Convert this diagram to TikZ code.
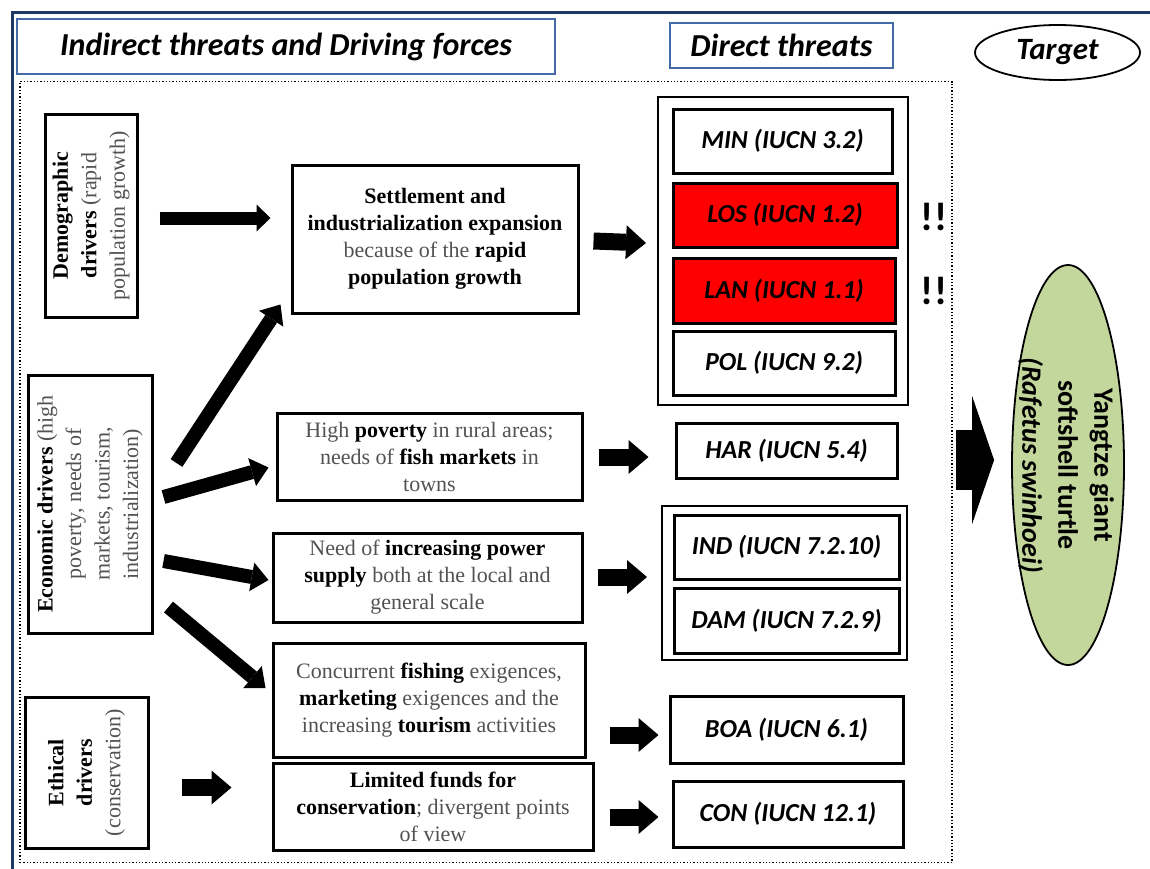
\documentclass[tikz,border=0pt]{standalone}
\usepackage{fontspec}
\setmainfont{Liberation Serif}
\newfontfamily\calibfont{Carlito}
\usetikzlibrary{arrows.meta,shapes.geometric}
\definecolor{navy}{RGB}{31,56,100}
\definecolor{hdrblue}{RGB}{68,107,168}
\definecolor{threatred}{RGB}{255,0,0}
\definecolor{turtlegreen}{RGB}{195,214,155}
\newcommand\bd[1]{{\bfseries\color{black}#1}}

\begin{document}
\begin{tikzpicture}[x=1pt,y=-1pt,
  hdr/.style={draw=hdrblue,line width=2.5pt,inner sep=0pt,
    font=\calibfont\bfseries\itshape\fontsize{32}{36}\selectfont},
  drvbox/.style={draw,line width=3pt,inner sep=0pt},
  drvtext/.style={rotate=90,align=center,text=black!68,inner sep=0pt,
    font=\fontsize{22}{28.5}\selectfont},
  cause/.style={draw,line width=3pt,align=center,text=black!68,inner sep=0pt,
    font=\fontsize{22}{27}\selectfont},
  threat/.style={draw,line width=3pt,inner sep=0pt,
    font=\calibfont\bfseries\itshape\fontsize{26}{30}\selectfont},
  grp/.style={draw,line width=2pt,inner sep=0pt},
  alarm/.style={font=\calibfont\bfseries\fontsize{40}{40}\selectfont,inner sep=0pt},
  fatA/.style={line width=13pt,-{Triangle[length=14pt,width=27pt,line width=0pt]}},
  fatB/.style={line width=14pt,-{Triangle[length=17pt,width=29pt,line width=0pt]}},
  fatC/.style={line width=17pt,-{Triangle[length=20pt,width=34pt,line width=0pt]}},
  fatD/.style={line width=60pt,-{Triangle[length=22pt,width=128pt,line width=0pt]}}
]
\useasboundingbox (0,0) rectangle (1150,868);

% page frame
\draw[navy,line width=3pt] (12,870) -- (12,12) -- (1152,12);

% headings
\node[hdr,minimum width=538pt,minimum height=55pt] (hindirect) at (286,46.5)
  {Indirect threats and Driving forces};
\node[hdr,minimum width=223pt,minimum height=45pt] (hdirect) at (781.5,45.5)
  {Direct threats};
\node[ellipse,draw,line width=1.8pt,inner sep=0pt,minimum width=165pt,minimum height=55pt,
  font=\calibfont\bfseries\itshape\fontsize{31}{36}\selectfont] (htarget) at (1057.5,52.5) {Target};

% dotted area of indirect and direct threats
\node[draw,dotted,line width=1.3pt,minimum width=932pt,minimum height=781pt] (area) at (486,472) {};

% driving forces
\node[drvbox,minimum width=92pt,minimum height=203pt] (demo) at (91,215.5) {};
\node[drvtext] at (demo) {\bd{Demographic}\\\bd{drivers} (rapid\\population growth)};
\node[drvbox,minimum width=124pt,minimum height=258pt] (econ) at (90,504) {};
\node[drvtext] at (econ) {\bd{Economic drivers} (high\\poverty, needs of\\markets, tourism,\\industrialization)};
\node[drvbox,minimum width=123pt,minimum height=151pt] (ethic) at (86.5,772.5) {};
\node[drvtext] at (ethic) {\bd{Ethical}\\\bd{drivers}\\(conservation)};

% indirect threats
\node[cause,minimum width=286pt,minimum height=148pt] (settle) at (435,239)
  {\bd{Settlement and}\\\bd{industrialization expansion}\\because of the \bd{rapid}\\\bd{population growth}};
\node[cause,minimum width=305pt,minimum height=87pt] (pov) at (429.5,456.5)
  {High \bd{poverty} in rural areas;\\needs of \bd{fish markets} in\\towns};
\node[cause,minimum width=309pt,minimum height=89pt] (power) at (427.5,577.5)
  {Need of \bd{increasing power}\\\bd{supply} both at the local and\\general scale};
\node[cause,minimum width=312pt,minimum height=114pt] (conc) at (429,700)
  {Concurrent \bd{fishing} exigences,\\\bd{marketing} exigences and the\\increasing \bd{tourism} activities};
\node[cause,minimum width=320pt,minimum height=87pt] (lim) at (433,806.5)
  {\bd{Limited funds for}\\\bd{conservation}; divergent points\\of view};

% direct threats
\node[grp,minimum width=250pt,minimum height=308pt] (g1) at (783,251) {};
\node[threat,minimum width=219pt,minimum height=64pt] (min) at (782.5,141) {MIN (IUCN 3.2)};
\node[threat,fill=threatred,minimum width=224pt,minimum height=64pt] (los) at (785,215) {LOS (IUCN 1.2)};
\node[threat,fill=threatred,minimum width=222pt,minimum height=65pt] (lan) at (784,290.5) {LAN (IUCN 1.1)};
\node[threat,minimum width=222pt,minimum height=64pt] (pol) at (784,363) {POL (IUCN 9.2)};
\node[alarm] (warn1) at (934,217) {!!};
\node[alarm] (warn2) at (934,291) {!!};
\node[threat,minimum width=221pt,minimum height=55pt] (har) at (786.5,450.5) {HAR (IUCN 5.4)};
\node[grp,minimum width=245pt,minimum height=154pt] (g2) at (784.5,583) {};
\node[threat,minimum width=225pt,minimum height=64pt] (ind) at (786.5,547) {IND (IUCN 7.2.10)};
\node[threat,minimum width=225pt,minimum height=65pt] (dam) at (786.5,620.5) {DAM (IUCN 7.2.9)};
\node[threat,minimum width=233pt,minimum height=67pt] (boa) at (786.5,729.5) {BOA (IUCN 6.1)};
\node[threat,minimum width=230pt,minimum height=66pt] (con) at (788,814) {CON (IUCN 12.1)};

% target
\node[ellipse,draw,line width=1.8pt,fill=turtlegreen,inner sep=0pt,
  minimum width=112pt,minimum height=400pt] (turtle) at (1068,465) {};
\node[rotate=-90,align=center,inner sep=0pt,
  font=\calibfont\bfseries\fontsize{28}{36}\selectfont] at (1066,465)
  {Yangtze giant\\softshell turtle\\\textit{(Rafetus swinhoei)}};

% arrows between drivers, threats and target
\draw[fatA] ([xshift=21pt,yshift=-2.5pt]demo.east) -- ([xshift=-20pt,yshift=21pt]settle.west);
\draw[fatB] ([xshift=23pt,yshift=41pt]econ.east) -- ([xshift=-10pt,yshift=10pt]settle.south west);
\draw[fatB] ([xshift=10pt,yshift=7pt]econ.east) -- ([xshift=-7pt,yshift=-11pt]pov.west);
\draw[fatB] ([xshift=10pt,yshift=-57pt]econ.east) -- ([xshift=-3pt,yshift=-2.5pt]power.west);
\draw[fatB] ([xshift=15pt,yshift=-103pt]econ.east) -- ([xshift=-6pt,yshift=12pt]conc.west);
\draw[fatC] ([xshift=32pt,yshift=-15pt]ethic.east) -- ([xshift=-40pt,yshift=19pt]lim.west);
\draw[fatC] ([xshift=14pt,yshift=-2pt]settle.east) -- ([xshift=-11pt,yshift=8pt]g1.west);
\draw[fatC] ([xshift=15pt,yshift=-0.5pt]pov.east) -- ([xshift=-26pt,yshift=-6.5pt]har.west);
\draw[fatC] ([xshift=14pt,yshift=0.5pt]power.east) -- ([xshift=-14pt,yshift=6pt]g2.west);
\draw[fatC] ([xshift=23pt,yshift=-35pt]conc.east) -- ([xshift=-10pt,yshift=-5.5pt]boa.west);
\draw[fatC] ([xshift=15pt,yshift=-10.5pt]lim.east) -- ([xshift=-13pt,yshift=-3pt]con.west);
\draw[fatD] ([xshift=3pt,yshift=12pt]area.east) -- ([xshift=-17pt,yshift=5pt]turtle.west);
\end{tikzpicture}
\end{document}
